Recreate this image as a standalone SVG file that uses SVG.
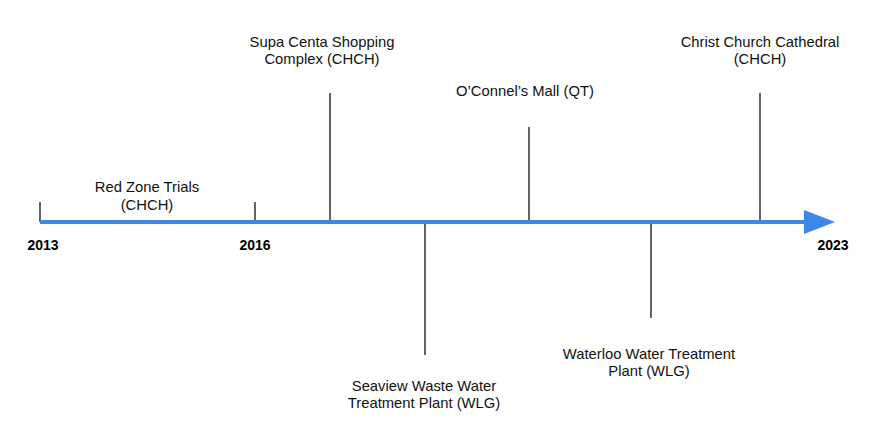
<svg xmlns="http://www.w3.org/2000/svg" width="877" height="437" viewBox="0 0 877 437">
<style>
.lbl{font-family:"Liberation Sans",Arial,sans-serif;font-size:14.8px;fill:#111;text-anchor:middle}
.yr{font-family:"Liberation Sans",Arial,sans-serif;font-size:14px;font-weight:bold;fill:#000;text-anchor:middle}
.stem{stroke:#111;stroke-width:1.3;fill:none}
</style>
<rect width="877" height="437" fill="#fff"/>
<g id="connectors">
<line class="stem" x1="40" y1="202" x2="40" y2="222"/>
<line class="stem" x1="255" y1="202" x2="255" y2="222"/>
<line class="stem" x1="330" y1="93" x2="330" y2="222"/>
<line class="stem" x1="425" y1="222" x2="425" y2="355"/>
<line class="stem" x1="529" y1="127" x2="529" y2="222"/>
<line class="stem" x1="651" y1="222" x2="651" y2="318"/>
<line class="stem" x1="760" y1="93" x2="760" y2="222"/>
</g>
<g id="axis">
<line x1="40" y1="222" x2="808" y2="222" stroke="#3b88e6" stroke-width="4"/>
<polygon points="804,210 835,222 804,234" fill="#3b88e6"/>
</g>
<g id="year-2013"><text class="yr" x="43" y="250">2013</text></g>
<g id="year-2016"><text class="yr" x="255" y="250">2016</text></g>
<g id="year-2023"><text class="yr" x="833" y="250">2023</text></g>
<g id="red-zone"><text class="lbl" x="147" y="192">Red Zone Trials</text><text class="lbl" x="147" y="210">(CHCH)</text></g>
<g id="supa-centa"><text class="lbl" x="322" y="47">Supa Centa Shopping</text><text class="lbl" x="322" y="64">Complex (CHCH)</text></g>
<g id="oconnels"><text class="lbl" x="525" y="96">O’Connel’s Mall (QT)</text></g>
<g id="cathedral"><text class="lbl" x="760" y="47">Christ Church Cathedral</text><text class="lbl" x="760" y="64">(CHCH)</text></g>
<g id="seaview"><text class="lbl" x="424" y="391">Seaview Waste Water</text><text class="lbl" x="424" y="408">Treatment Plant (WLG)</text></g>
<g id="waterloo"><text class="lbl" x="649" y="359">Waterloo Water Treatment</text><text class="lbl" x="649" y="376">Plant (WLG)</text></g>
</svg>
